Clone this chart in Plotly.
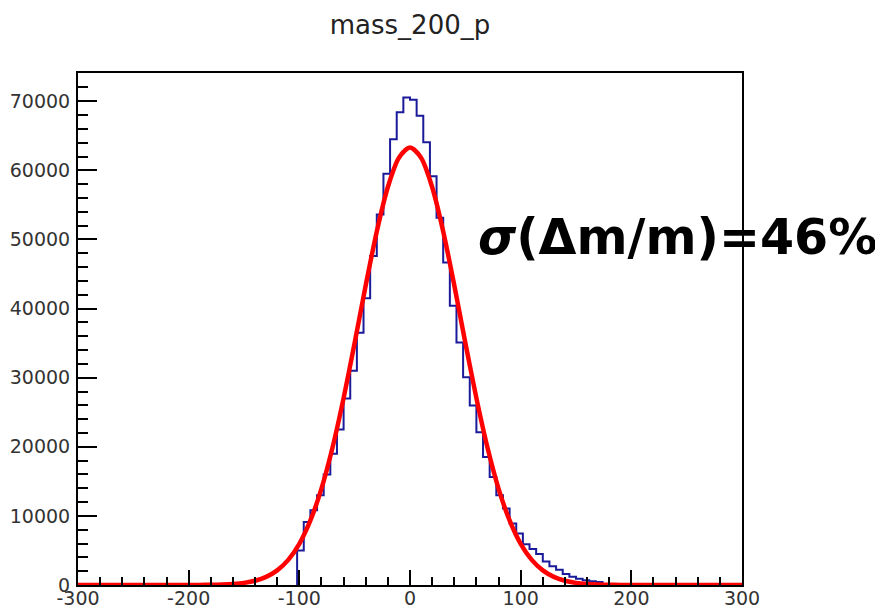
import plotly.graph_objects as go

# ---- data ----
bin_width = 6
bin_low_edges = list(range(-102, 186, 6))  # -102 ... 180
hist_counts = [
    5000, 9100, 10800, 13000, 16000, 19000, 22500, 27000, 31000, 36500,
    41500, 47600, 53600, 59500, 64500, 68400, 70560, 70230, 67920, 64070,
    59160, 53150, 46650, 40400, 35100, 30060, 25970, 22120, 18510, 15630,
    12990, 11070, 8900, 7460, 5900, 5200, 4500, 3400, 2700, 2200,
    1600, 1200, 900, 700, 550, 450, 150, 50,
]

fit_x = [-300, -200, -190, -180, -170, -160, -150, -140, -130, -120, -110, -100,
         -90, -80, -70, -60, -50, -40, -30, -20, -10, 0,
         10, 20, 30, 40, 50, 60, 70, 80, 90, 100,
         110, 120, 130, 140, 150, 160, 170, 180, 190, 200, 300]
fit_y = [0, 0, 10, 30, 70, 150, 310, 620, 1170, 2110, 3630, 5960,
         9340, 13950, 19890, 27040, 35060, 43370, 51170, 57590, 61820, 63300,
         61820, 57590, 51170, 43370, 35060, 27040, 19890, 13950, 9340, 5960,
         3630, 2110, 1170, 620, 310, 150, 70, 30, 10, 0, 0]

x_tick_vals = [-300, -200, -100, 0, 100, 200, 300]
x_tick_text = ["-300", "-200", "-100", "0", "100", "200", "300"]
y_tick_vals = [0, 10000, 20000, 30000, 40000, 50000, 60000, 70000]
y_tick_text = ["0", "10000", "20000", "30000", "40000", "50000", "60000", "70000"]

title_text = "mass_200_p"
label_text = "<b><i>σ</i>(Δm/m)=46%</b>"

# ---- build step outline of the histogram ----
step_x, step_y = [bin_low_edges[0]], [0]
for lo, c in zip(bin_low_edges, hist_counts):
    step_x += [lo, lo + bin_width]
    step_y += [c, c]
step_x.append(bin_low_edges[-1] + bin_width)
step_y.append(0)

ymax = max(hist_counts) * 1.05

# page body has an 8px default margin; size the figure so the plot sits where the reference does
W, H = 875, 601
ML, MR, MT, MB = 70, 141, 65, 24
PW, PH = W - ML - MR, H - MT - MB

fig = go.Figure()
fig.add_trace(go.Scatter(x=step_x, y=step_y, mode="lines",
                         line=dict(color="#1a1a9a", width=2), showlegend=False))
fig.add_trace(go.Scatter(x=fit_x, y=fit_y, mode="lines",
                         line=dict(color="#ff0000", width=4.5, shape="spline", smoothing=0.8),
                         showlegend=False))

tickfont = dict(family="DejaVu Sans", size=19, color="#333333")

fig.update_layout(
    width=W, height=H,
    margin=dict(l=ML, r=MR, t=MT, b=MB),
    paper_bgcolor="white", plot_bgcolor="white",
    title=dict(text=title_text, x=(ML + PW / 2) / W, xanchor="center",
               y=1 - 17 / H, yanchor="middle",
               font=dict(family="DejaVu Sans", size=26, color="#222222")),
    xaxis=dict(range=[-300, 300], tickmode="array", tickvals=x_tick_vals, ticktext=x_tick_text,
               ticks="inside", ticklen=15, tickwidth=2, tickcolor="black",
               minor=dict(tickmode="linear", tick0=-300, dtick=20, ticks="inside",
                          ticklen=8, tickwidth=2, tickcolor="black", showgrid=False),
               showline=True, linecolor="black", linewidth=2, mirror=True,
               showgrid=False, zeroline=False, tickfont=tickfont, automargin=False,
               ticklabelstandoff=-5),
    yaxis=dict(range=[0, ymax], tickmode="array", tickvals=y_tick_vals, ticktext=y_tick_text,
               ticks="inside", ticklen=19, tickwidth=2, tickcolor="black",
               minor=dict(tickmode="linear", tick0=0, dtick=2000, ticks="inside",
                          ticklen=10, tickwidth=2, tickcolor="black", showgrid=False),
               showline=True, linecolor="black", linewidth=2, mirror=True,
               showgrid=False, zeroline=False, tickfont=tickfont, automargin=False,
               ticklabelstandoff=2),
    annotations=[dict(text=label_text, xref="paper", yref="paper",
                      x=(677 - 78) / PW, y=(585 - 237) / PH,
                      xanchor="center", yanchor="middle", showarrow=False,
                      font=dict(family="DejaVu Sans", size=49, color="black"))],
)

fig.write_html("out.html")
